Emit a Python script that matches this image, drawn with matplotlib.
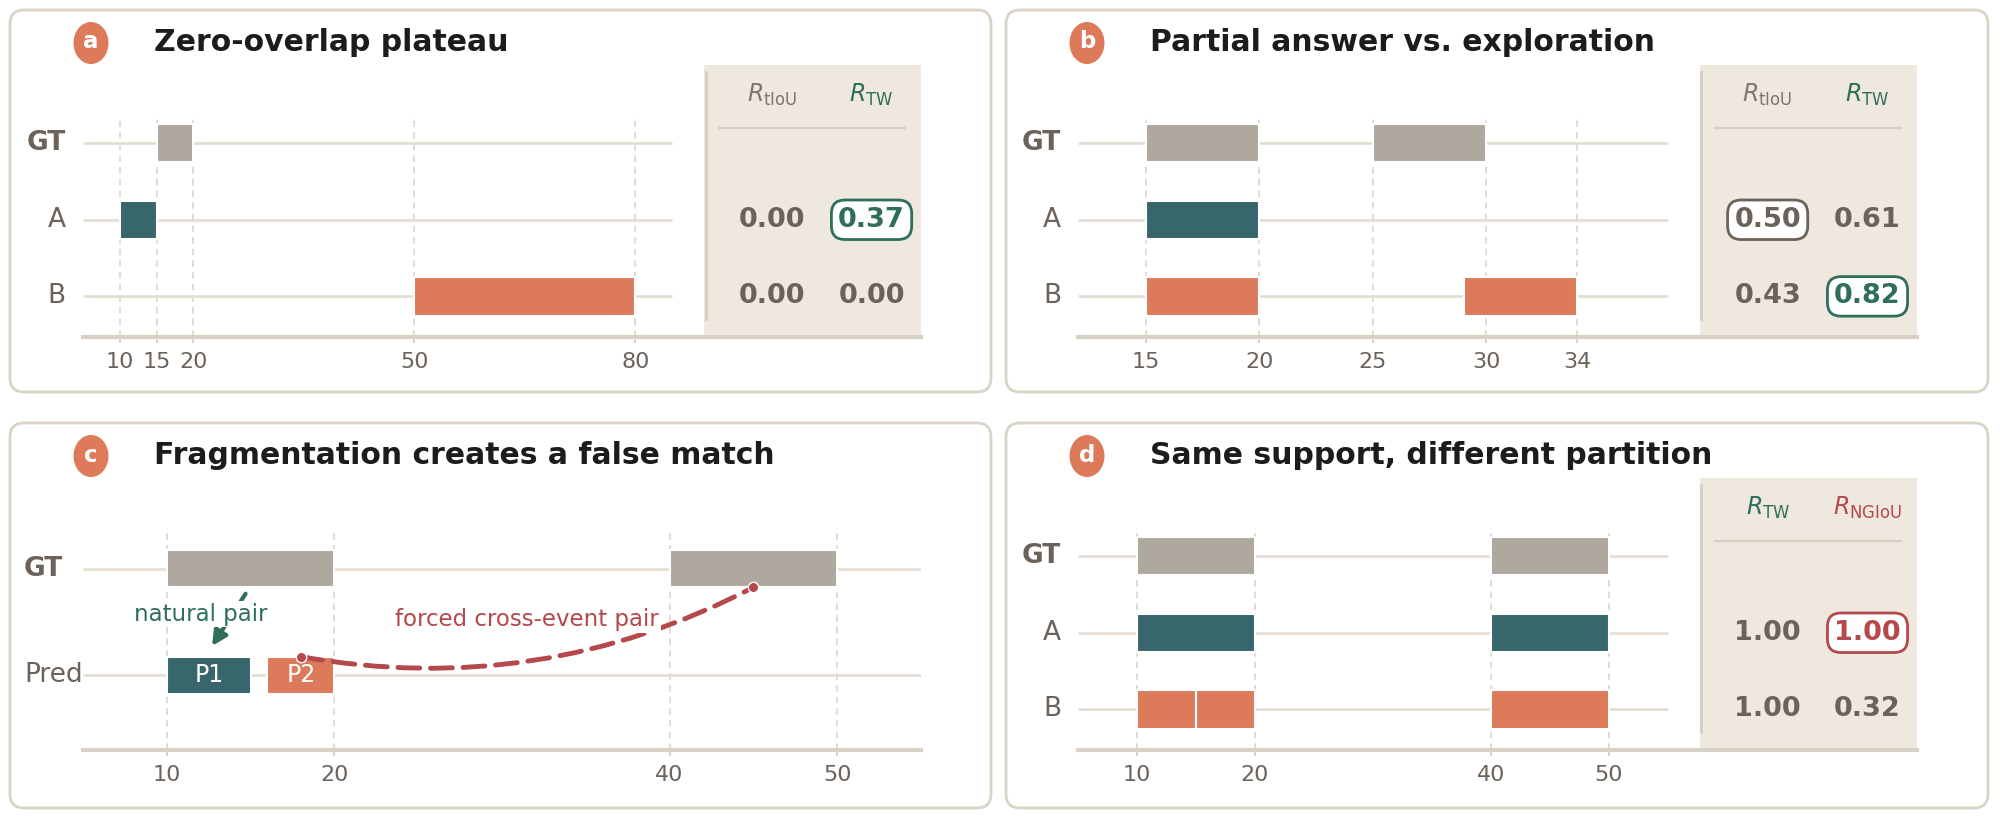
import matplotlib
matplotlib.use("Agg")
import matplotlib.pyplot as plt
from matplotlib.patches import FancyBboxPatch, Rectangle, FancyArrowPatch, Ellipse
from matplotlib.transforms import ScaledTranslation

# ---- data ----
a_title = "Zero-overlap plateau"
a_rows = ["GT", "A", "B"]
a_segments = [[(15, 20)], [(10, 15)], [(50, 80)]]
a_ticks = [10, 15, 20, 50, 80]
a_metrics = ["tIoU", "TW"]
a_scores = [[0.00, 0.37], [0.00, 0.00]]
a_highlight = [(0, 1)]

b_title = "Partial answer vs. exploration"
b_rows = ["GT", "A", "B"]
b_segments = [[(15, 20), (25, 30)], [(15, 20)], [(15, 20), (29, 34)]]
b_ticks = [15, 20, 25, 30, 34]
b_metrics = ["tIoU", "TW"]
b_scores = [[0.50, 0.61], [0.43, 0.82]]
b_highlight = [(0, 0), (1, 1)]

c_title = "Fragmentation creates a false match"
c_rows = ["GT", "Pred"]
c_segments = [[(10, 20), (40, 50)], [(10, 15), (16, 20)]]
c_seg_names = ["P1", "P2"]
c_ticks = [10, 20, 40, 50]

d_title = "Same support, different partition"
d_rows = ["GT", "A", "B"]
d_segments = [[(10, 20), (40, 50)], [(10, 20), (40, 50)], [(10, 15), (15, 20), (40, 50)]]
d_ticks = [10, 20, 40, 50]
d_metrics = ["TW", "NGIoU"]
d_scores = [[1.00, 1.00], [1.00, 0.32]]
d_highlight = [(0, 1)]

# ---- style ----
GRAY_BAR = "#aea89e"
TEAL = "#37666c"
ORANGE = "#dc7a5a"
GREEN = "#2f6e5b"
RED = "#b4484b"
INK = "#6b6259"
HEAD_GRAY = "#7f766e"
SHADE = "#efe8df"
ROWLINE = "#e4ded5"
SPINE = "#d8d1c6"
GUIDE = "#ddd6cc"
BORDER = "#d9d3c8"

row_colors = {"GT": GRAY_BAR, "A": TEAL, "B": ORANGE}
metric_colors = {"tIoU": HEAD_GRAY, "TW": GREEN, "NGIoU": RED}
metric_box = {"tIoU": INK, "TW": GREEN, "NGIoU": RED}

W, H = 2000, 819
fig = plt.figure(figsize=(W / 100, H / 100), dpi=100)
fig.patch.set_facecolor("white")

bg = fig.add_axes([0, 0, 1, 1], zorder=0)
bg.set_xlim(0, W)
bg.set_ylim(H, 0)
bg.axis("off")


def panel_frame(x0, y0, x1, y1, letter, title):
    bg.add_patch(FancyBboxPatch((x0, y0), x1 - x0, y1 - y0,
                                boxstyle="round,pad=0,rounding_size=14",
                                fc="white", ec=BORDER, lw=2))
    cx, cy = x0 + 81, y0 + 33
    bg.add_patch(Ellipse((cx, cy), 35, 42, fc=ORANGE, ec="none"))
    bg.text(cx, cy - 1, letter, ha="center", va="center", color="white",
            fontsize=16.5, fontweight="bold")
    bg.text(x0 + 144, y0 + 41, title, ha="left", va="baseline", color="#1c1c1c",
            fontsize=21.5, fontweight="bold")


def make_ax(left, top, width=838, height=272):
    ax = fig.add_axes([left / W, 1 - (top + height) / H, width / W, height / H], zorder=1)
    ax.patch.set_alpha(0)
    return ax


def timeline(ax, rows, segments, ticks, span, frac, ylim, bar_h, guide_top,
             label_off=-17, label_ha="right", seg_colors=None, seg_names=None):
    x0, x1 = span
    ax.set_xlim(x0, x0 + (x1 - x0) / frac)
    ax.set_ylim(*ylim)
    n = len(rows)
    for t in ticks:
        ax.vlines(t, ylim[0], guide_top, color=GUIDE, lw=1.2, linestyles=(0, (4, 3)), zorder=0.5)
    lab_tr = ax.get_yaxis_transform() + ScaledTranslation(label_off / 100, 0, fig.dpi_scale_trans)
    for i, (name, segs) in enumerate(zip(rows, segments)):
        y = n - 1 - i
        ax.hlines(y, x0, x1, color=ROWLINE, lw=2, zorder=1)
        for k, (s, e) in enumerate(segs):
            col = row_colors.get(name) if seg_colors is None or name == "GT" else seg_colors[k]
            ax.barh(y, e - s, left=s, height=bar_h, color=col, edgecolor="white", lw=1.5, zorder=3)
            if seg_names is not None and name != "GT":
                ax.text((s + e) / 2, y, seg_names[k], ha="center", va="center",
                        color="white", fontsize=17, zorder=4)
        ax.text(0, y, name, transform=lab_tr, ha=label_ha, va="center", color=INK,
                fontsize=19, fontweight="bold" if name == "GT" else "normal")
    for side in ["left", "right", "top"]:
        ax.spines[side].set_visible(False)
    ax.spines["bottom"].set_color(SPINE)
    ax.spines["bottom"].set_linewidth(3)
    ax.set_yticks([])
    ax.set_xticks(ticks)
    ax.tick_params(axis="x", length=4.5, width=1.5, color=SPINE, labelsize=16,
                   labelcolor=INK, pad=6)


def score_table(ax, metrics, scores, highlight):
    tr = ax.get_yaxis_transform()
    ax.add_patch(Rectangle((0.741, 0), 0.259, 1, transform=ax.transAxes, color=SHADE, zorder=0.2, lw=0))
    ax.plot([0.743, 0.743], [-0.29, 2.93], transform=tr, color="#d6cec2", lw=2, zorder=0.3)
    ax.plot([0.759, 0.981], [2.2, 2.2], transform=tr, color="#d6cec2", lw=1.5, zorder=0.3)
    cols = [0.822, 0.941]
    for j, m in enumerate(metrics):
        ax.text(cols[j], 2.63, r"$R_{\mathrm{%s}}$" % m, transform=tr, ha="center", va="center",
                color=metric_colors[m], fontsize=17)
    n = len(scores)
    for i, row in enumerate(scores):
        y = n - 1 - i
        for j, v in enumerate(row):
            m = metrics[j]
            if (i, j) in highlight:
                col = metric_box[m]
                bb = dict(boxstyle="round,pad=0.25,rounding_size=0.5", fc="white", ec=col, lw=2)
            else:
                col, bb = INK, None
            ax.text(cols[j], y, f"{v:.2f}", transform=tr, ha="center", va="center",
                    color=col, fontsize=19.5, fontweight="bold", bbox=bb, zorder=4)


ylim3 = (-0.53, 3.02)
FRAC = 0.703

# panel a
panel_frame(10, 10, 991, 392, "a", a_title)
ax = make_ax(83, 65)
timeline(ax, a_rows, a_segments, a_ticks, (5, 85), FRAC, ylim3, 0.5, 2.37)
score_table(ax, a_metrics, a_scores, a_highlight)

# panel b
panel_frame(1006, 10, 1988, 392, "b", b_title)
ax = make_ax(1078, 65, 839)
timeline(ax, b_rows, b_segments, b_ticks, (12, 38), FRAC, ylim3, 0.5, 2.37)
score_table(ax, b_metrics, b_scores, b_highlight)

# panel c
panel_frame(10, 423, 991, 808, "c", c_title)
ax = make_ax(83, 478)
c_bar_h = 0.35
timeline(ax, c_rows, c_segments, c_ticks, (5, 55), 1.0, (-0.70, 1.85), c_bar_h, 1.38,
         label_off=-59, label_ha="left", seg_colors=[TEAL, ORANGE], seg_names=c_seg_names)
gt1, gt2 = c_segments[0]
p1, p2 = c_segments[1]
gt_y, pred_y = 1, 0
# natural pair arrow
ax.annotate("", xy=((p1[0] + p1[1]) / 2 + 0.2, pred_y + c_bar_h / 2 + 0.1),
            xytext=((p1[0] + p1[1]) / 2 + 2.2, gt_y - c_bar_h / 2 - 0.06),
            arrowprops=dict(arrowstyle="-|>", color=GREEN, lw=3, mutation_scale=22,
                            shrinkA=0, shrinkB=0), zorder=5)
ax.text(12.05, 0.575, "natural pair", ha="center", va="center", color=GREEN, fontsize=16.5,
        bbox=dict(boxstyle="square,pad=0.08", fc="white", ec="none"), zorder=6)
# forced cross-event pair
pA = ((p2[0] + p2[1]) / 2, pred_y + c_bar_h / 2)
pB = ((gt2[0] + gt2[1]) / 2, gt_y - c_bar_h / 2)
ax.add_patch(FancyArrowPatch(pA, pB, connectionstyle="arc3,rad=0.17", arrowstyle="-",
                             color=RED, lw=3.5, linestyle=(0, (4.5, 2.2)), shrinkA=0, shrinkB=0,
                             zorder=5))
ax.plot([pA[0], pB[0]], [pA[1], pB[1]], "o", color=RED, ms=7.5, mec="white", mew=1.0, zorder=7)
ax.text(31.5, 0.52, "forced cross-event pair", ha="center", va="center", color=RED,
        fontsize=16.5, bbox=dict(boxstyle="square,pad=0.08", fc="white", ec="none"), zorder=6)

# panel d
panel_frame(1006, 423, 1988, 808, "d", d_title)
ax = make_ax(1078, 478, 839)
timeline(ax, d_rows, d_segments, d_ticks, (5, 55), FRAC, ylim3, 0.5, 2.37)
score_table(ax, d_metrics, d_scores, d_highlight)

fig.savefig("out.png", dpi=100, facecolor="white")
